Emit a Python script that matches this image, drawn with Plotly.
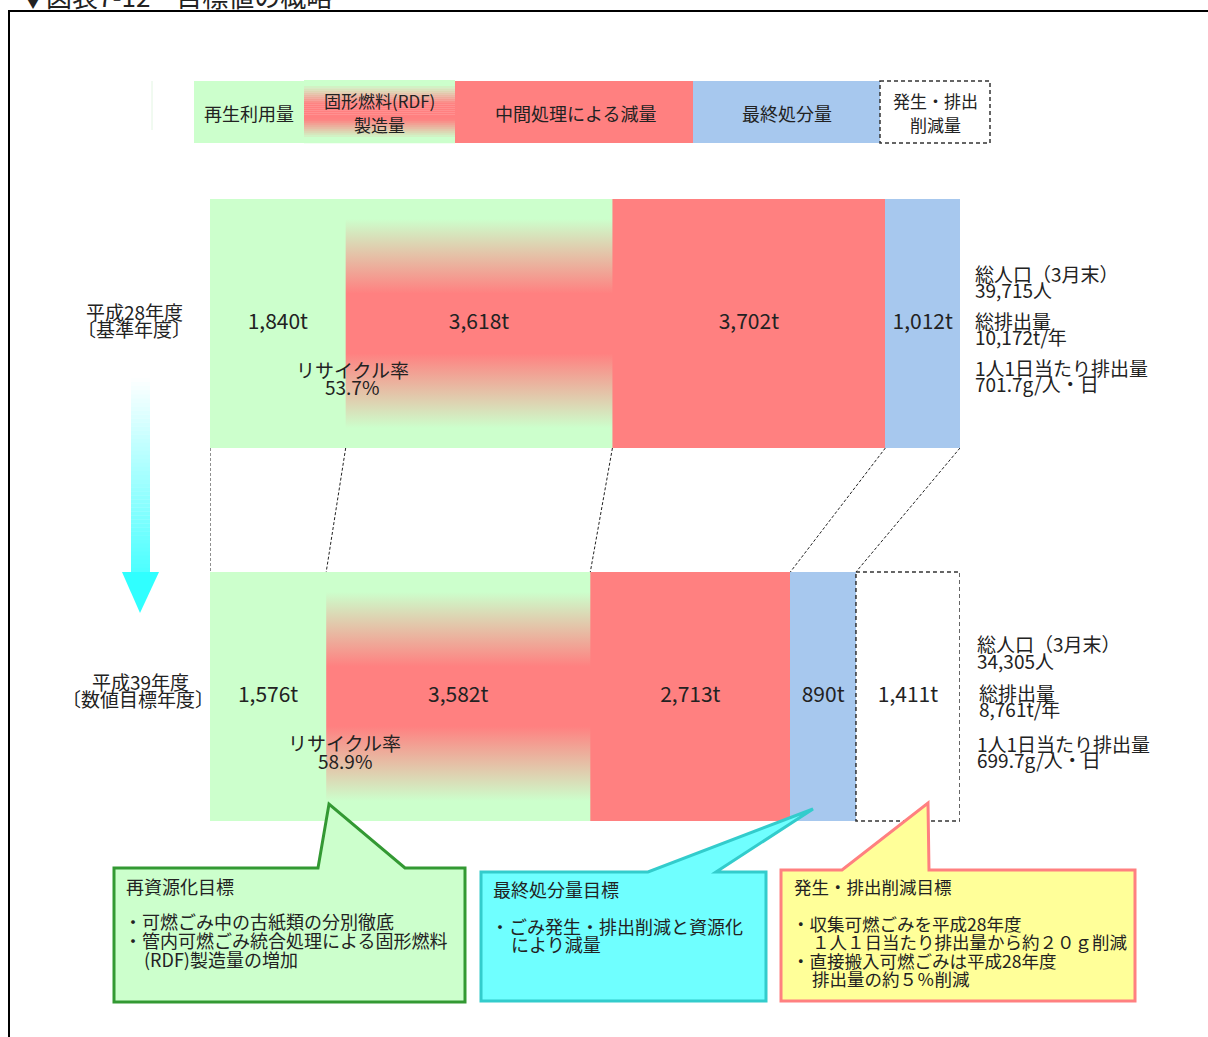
import plotly.graph_objects as go

W, H = 1208, 1037
FONT = "Noto Sans CJK JP"

##### Data #####

years = ["平成28年度", "平成39年度"]
year_notes = ["〔基準年度〕", "〔数値目標年度〕"]

segments = ["再生利用量", "固形燃料(RDF)製造量", "中間処理による減量", "最終処分量", "発生・排出削減量"]
recycled = [1840, 1576]
rdf = [3618, 3582]
intermediate = [3702, 2713]
final_disposal = [1012, 890]
reduction = [0, 1411]

recycle_rate = ["53.7%", "58.9%"]
population = [39715, 34305]
total_emission = [10172, 8761]
per_capita = [701.7, 699.7]

GREEN = "#CCFFCC"
RED = "#FF8080"
BLUE = "#A7C8EE"
colors = [GREEN, GREEN, RED, BLUE, "white"]
grad_stops = [(0, GREEN), (0.08, GREEN), (0.38, RED), (0.62, RED), (0.92, GREEN), (1, GREEN)]


def px(x):
    return x / W


def py(y):
    return 1 - y / H


def hex2rgb(c):
    c = c.lstrip("#")
    return [int(c[i:i + 2], 16) for i in (0, 2, 4)]


def color_at(t, stops):
    for (t0, c0), (t1, c1) in zip(stops[:-1], stops[1:]):
        if t0 <= t <= t1:
            f = 0 if t1 == t0 else (t - t0) / (t1 - t0)
            a, b = hex2rgb(c0), hex2rgb(c1)
            r = [round(a[i] + (b[i] - a[i]) * f) for i in range(3)]
            return "rgb(%d,%d,%d)" % tuple(r)
    return stops[-1][1]


##### Figure #####

fig = go.Figure()
ypos = [0, 1]
bw = 249 / 373
series = [recycled, rdf, intermediate, final_disposal, reduction]

for name, vals, col in zip(segments, series, colors):
    fig.add_trace(go.Bar(
        y=ypos, x=vals, orientation="h", width=bw, name=name,
        marker=dict(color=col, line=dict(width=0)),
        hoverinfo="skip", showlegend=False
    ))

# cumulative edges per year
edges = []
for i in range(2):
    e = [0]
    for vals in series:
        e.append(e[-1] + vals[i])
    edges.append(e)

# RDF gradient overlay
for i in ypos:
    x0, x1 = edges[i][1], edges[i][2]
    y0, y1 = i - bw / 2, i + bw / 2
    fig.add_trace(go.Scatter(
        x=[x0, x1, x1, x0, x0], y=[y0, y0, y1, y1, y0],
        mode="lines", fill="toself", line=dict(width=0),
        fillgradient=dict(type="vertical", colorscale=[[t, c] for t, c in grad_stops]),
        hoverinfo="skip", showlegend=False
    ))

# dashed outline of the reduction segment
x0, x1 = edges[1][4], edges[1][5]
y0, y1 = 1 - bw / 2, 1 + bw / 2
fig.add_trace(go.Scatter(
    x=[x0, x1, x1, x0, x0], y=[y0, y0, y1, y1, y0], mode="lines",
    line=dict(color="#333333", width=1.5, dash="4px,3px"),
    hoverinfo="skip", showlegend=False
))

# connector lines between the two bars
cx, cy = [], []
for k in range(5):
    cx += [edges[0][k], edges[1][k], None]
    cy += [0 + bw / 2, 1 - bw / 2, None]
fig.add_trace(go.Scatter(
    x=cx, y=cy, mode="lines", line=dict(color="#222222", width=1, dash="3px,2px"),
    hoverinfo="skip", showlegend=False
))

# value labels
tx, ty, tt = [], [], []
for i in ypos:
    for k, vals in enumerate(series):
        if vals[i] > 0:
            tx.append((edges[i][k] + edges[i][k + 1]) / 2)
            ty.append(i)
            tt.append(f"{vals[i]:,}t")
fig.add_trace(go.Scatter(
    x=tx, y=ty, text=tt, mode="text",
    textfont=dict(family=FONT, size=21, color="#222222"),
    hoverinfo="skip", showlegend=False
))

##### Shapes #####

shapes = []

# outer frame
shapes.append(dict(type="rect", xref="paper", yref="paper", x0=px(9), y0=py(11), x1=px(1225), y1=py(1060),
                   line=dict(color="black", width=2)))

# legend
shapes.append(dict(type="line", xref="paper", yref="paper", x0=px(152), x1=px(152), y0=py(81), y1=py(130),
                   line=dict(color="#E2F5E2", width=1)))
leg_boxes = [(194, 304, GREEN), (455, 693, RED), (693, 880, BLUE)]
for a, b, c in leg_boxes:
    shapes.append(dict(type="rect", xref="paper", yref="paper", x0=px(a), x1=px(b), y0=py(81), y1=py(143),
                       fillcolor=c, line=dict(width=0)))
n = 31
for k in range(n):
    ya = 80 + k * 63 / n
    yb = 80 + (k + 1) * 63 / n
    shapes.append(dict(type="rect", xref="paper", yref="paper", x0=px(304), x1=px(455), y0=py(ya), y1=py(yb + 0.3),
                       fillcolor=color_at((k + 0.5) / n, grad_stops), line=dict(width=0), layer="below"))
shapes.append(dict(type="rect", xref="paper", yref="paper", x0=px(880), x1=px(990), y0=py(81), y1=py(143),
                   line=dict(color="#333333", width=1.5, dash="4px,3px")))

# arrow
n = 48
for k in range(n):
    ya = 378 + k * 194 / n
    yb = 378 + (k + 1) * 194 / n
    shapes.append(dict(type="rect", xref="paper", yref="paper", x0=px(131), x1=px(150), y0=py(ya), y1=py(yb + 0.3),
                       fillcolor=color_at((k + 0.5) / n, [(0, "#FFFFFF"), (1, "#4CFFFF")]), line=dict(width=0)))


def path(points):
    return "M " + " L ".join(f"{px(x)},{py(y)}" for x, y in points) + " Z"


shapes.append(dict(type="path", xref="paper", yref="paper", path=path([(122, 572), (159, 572), (140, 613)]),
                   fillcolor="#30FFFF", line=dict(width=0)))

# callouts
callouts = [
    ([(114, 868), (318, 868), (329, 804), (405, 868), (465, 868), (465, 1002), (114, 1002)], "#CCFFCC", "#339933"),
    ([(481, 872), (648, 872), (813, 809), (716, 872), (766, 872), (766, 1001), (481, 1001)], "#6FFFFF", "#33CCCC"),
    ([(781, 870), (842, 870), (928, 803), (929, 870), (1135, 870), (1135, 1001), (781, 1001)], "#FFFF99", "#FF8080"),
]
for pts, fill, border in callouts:
    shapes.append(dict(type="path", xref="paper", yref="paper", path=path(pts),
                       fillcolor=fill, line=dict(color=border, width=3)))

##### Annotations #####

annotations = []


def note(text, x, y, size=18, anchor="center"):
    annotations.append(dict(
        text=text, x=px(x), y=py(y), xref="paper", yref="paper", showarrow=False,
        xanchor=anchor, yanchor="middle", font=dict(family=FONT, size=size, color="#222222")
    ))


note("▼図表7-12　目標値の概略", 18, -5, size=26, anchor="left")

# legend labels
note(segments[0], 249, 113)
note("固形燃料(RDF)", 379, 101, size=17)
note("製造量", 379, 124, size=17)
note(segments[2], 575, 113)
note(segments[3], 787, 113)
note("発生・排出", 935, 101, size=17)
note("削減量", 935, 124, size=17)

# year labels
note(years[0], 134, 311, size=19)
note(year_notes[0], 134, 328, size=19)
note(years[1], 140, 681, size=19)
note(year_notes[1], 138, 698, size=19)

# recycle rate
note("リサイクル率", 352, 369, size=19)
note(recycle_rate[0], 352, 386, size=19)
note("リサイクル率", 344, 742, size=19)
note(recycle_rate[1], 345, 760, size=19)

# right side info
info_pos = [[(973, 273), (973, 320), (973, 367)], [(975, 644), (977, 692), (975, 743)]]
for i in ypos:
    (xa, ya), (xb, yb), (xc, yc) = info_pos[i]
    note("総人口（3月末）", xa, ya, size=19, anchor="left")
    note(f"{population[i]:,}人", xa, ya + 16, size=19, anchor="left")
    note("総排出量", xb, yb, size=19, anchor="left")
    note(f"{total_emission[i]:,}t/年", xb, yb + 16, size=19, anchor="left")
    note("1人1日当たり排出量", xc, yc, size=19, anchor="left")
    note(f"{per_capita[i]}g/人・日", xc, yc + 16, size=19, anchor="left")

# callout texts
callout_lines = [
    ("再資源化目標", 124, 886, 18),
    ("・可燃ごみ中の古紙類の分別徹底", 122, 921, 18),
    ("・管内可燃ごみ統合処理による固形燃料", 122, 940, 18),
    ("(RDF)製造量の増加", 142, 959, 18),
    ("最終処分量目標", 491, 889, 18),
    ("・ごみ発生・排出削減と資源化", 489, 926, 18),
    ("により減量", 509, 944, 18),
    ("発生・排出削減目標", 792, 886, 17.5),
    ("・収集可燃ごみを平成28年度", 790, 923, 17.5),
    ("１人１日当たり排出量から約２０ｇ削減", 810, 941, 17.5),
    ("・直接搬入可燃ごみは平成28年度", 790, 960, 17.5),
    ("排出量の約５％削減", 810, 978, 17.5),
]
for text, x, y, s in callout_lines:
    note(text, x, y, size=s, anchor="left")

total = sum(s[0] for s in series)
fig.update_layout(
    width=W, height=H,
    margin=dict(l=0, r=0, t=0, b=0),
    paper_bgcolor="white", plot_bgcolor="white",
    barmode="stack", bargap=0,
    xaxis=dict(domain=[210 / W, 960 / W], range=[0, total], visible=False, fixedrange=True),
    yaxis=dict(domain=[0, 1], range=[(H - 323.5) / 373, -323.5 / 373], visible=False, fixedrange=True),
    shapes=shapes,
    annotations=annotations,
    showlegend=False,
)

fig.write_html("out.html", config={"displayModeBar": False},
               post_script="document.body.style.margin = '0';")
